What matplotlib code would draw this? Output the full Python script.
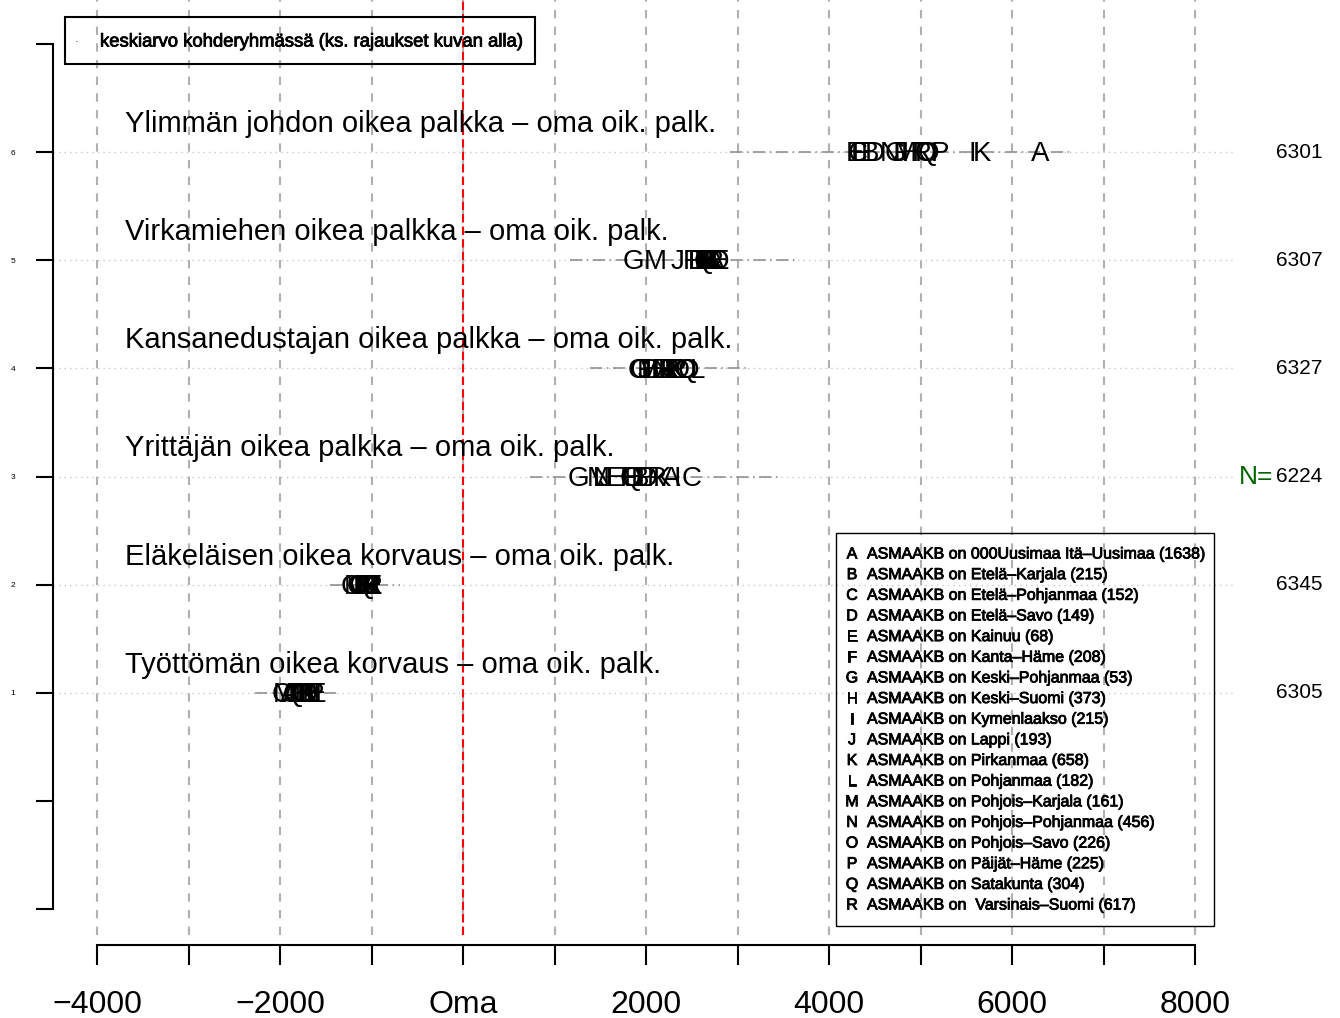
import matplotlib
matplotlib.use("Agg")
import matplotlib.pyplot as plt
import matplotlib.patheffects as pe
from matplotlib.patches import Rectangle

plt.rcParams['font.family'] = ['Liberation Sans', 'DejaVu Sans']

# rows, bottom to top
rows = [1, 2, 3, 4, 5, 6]
row_labels = [
    "Työttömän oikea korvaus – oma oik. palk.",
    "Eläkeläisen oikea korvaus – oma oik. palk.",
    "Yrittäjän oikea palkka – oma oik. palk.",
    "Kansanedustajan oikea palkka – oma oik. palk.",
    "Virkamiehen oikea palkka – oma oik. palk.",
    "Ylimmän johdon oikea palkka – oma oik. palk.",
]
n_values = [6305, 6345, 6224, 6327, 6307, 6301]

letters = list("ABCDEFGHIJKLMNOPQR")
regions = ["000Uusimaa Itä–Uusimaa", "Etelä–Karjala", "Etelä–Pohjanmaa", "Etelä–Savo",
           "Kainuu", "Kanta–Häme", "Keski–Pohjanmaa", "Keski–Suomi", "Kymenlaakso",
           "Lappi", "Pirkanmaa", "Pohjanmaa", "Pohjois–Karjala", "Pohjois–Pohjanmaa",
           "Pohjois–Savo", "Päijät–Häme", "Satakunta", " Varsinais–Suomi"]
region_n = [1638, 215, 152, 149, 68, 208, 53, 373, 215, 193, 658, 182, 161, 456, 226, 225, 304, 617]

# group means (A..R) per row
means_1 = [-1900, -1750, -1980, -1700, -1600, -1820, -1850, -1650, -1780,
           -1880, -1720, -1800, -1950, -1680, -1760, -1620, -1840, -1700]
means_2 = [-1000, -1100, -1230, -1050, -980, -1080, -1150, -1020, -1060,
           -1120, -1000, -1090, -1180, -1040, -1130, -1010, -1070, -990]
means_3 = [2273, 1934, 2503, 2022, 1661, 1803, 1257, 1869, 2339,
           1552, 2175, 1497, 1475, 1530, 1825, 1989, 1847, 2120]
means_4 = [2208, 2044, 1934, 2372, 2153, 2284, 1913, 2098, 2240,
           1989, 2317, 2557, 2022, 2175, 2426, 2339, 2459, 2262]
means_5 = [2754, 2645, 2699, 2568, 2809, 2612, 1858, 2678, 2590,
           2339, 2721, 2536, 2098, 2656, 2787, 2503, 2634, 2743]
means_6 = [6306, 4448, 4317, 4503, 4284, 4339, 4721, 4907, 5563,
           4776, 5672, 4317, 4831, 4667, 5049, 5213, 5082, 5016]
all_means = [means_1, means_2, means_3, means_4, means_5, means_6]

range_lo = [-2270, -1450, 730, 1390, 1170, 2920]
range_hi = [-1340, -690, 3460, 3140, 3630, 6630]

x_ticks = list(range(-4000, 9000, 1000))
x_ticklabels = ["−4000", "", "−2000", "", "Oma", "", "2000", "", "4000", "", "6000", "", "8000"]
y_ticks = list(range(-1, 8))
y_ticklabels = ["", "", "1", "2", "3", "4", "5", "6", ""]

W, H = 1340, 1018
fig = plt.figure(figsize=(W / 100, H / 100), dpi=100)
ax = fig.add_axes([53 / W, 83 / H, 1182 / W, 935 / H])
ax.set_xlim(-4481, 8437)
ax.set_ylim(-1.237, 7.405)

# grid
for xv in x_ticks:
    ax.axvline(xv, color="#b0b0b0", ls=(0, (4, 4)), lw=1.5, zorder=1)
for r in rows:
    ax.axhline(r, color="#c8c8c8", ls=(0, (1, 3)), lw=1, zorder=1)
ax.axvline(0, color="red", ls=(0, (4, 2)), lw=1.5, zorder=2)

# ranges and letters
for r, lo, hi, means, lab, n in zip(rows, range_lo, range_hi, all_means, row_labels, n_values):
    ax.plot([lo, hi], [r, r], color="#888888", ls=(0, (8, 3, 1, 3)), lw=1.1, zorder=2)
    for letter, m in zip(letters, means):
        ax.text(m, r - 0.02, letter, fontsize=20, ha="center", va="center", zorder=3)
    ax.text(-3694, r + 0.26, lab, fontsize=21, ha="left", va="center")
    ax.text(8885, r, str(n), fontsize=15, ha="left", va="center", clip_on=False)
ax.text(8850, 3, "N=", fontsize=19, color="darkgreen", ha="right", va="center", clip_on=False)

# axes styling
for s in ["top", "right"]:
    ax.spines[s].set_visible(False)
ax.spines["left"].set_bounds(-1, 7)
ax.spines["left"].set_linewidth(1.5)
ax.spines["bottom"].set_bounds(-4000, 8000)
ax.spines["bottom"].set_linewidth(1.5)
ax.spines["bottom"].set_position(("outward", 7.2))
ax.set_xticks(x_ticks)
ax.set_xticklabels(x_ticklabels, fontsize=23)
ax.set_yticks(y_ticks)
ax.set_yticklabels(y_ticklabels, fontsize=6)
ax.tick_params(axis="x", length=14.4, width=1.5, pad=18)
ax.tick_params(axis="y", length=12.2, width=1.5, pad=15)

heavy = [pe.withStroke(linewidth=0.6, foreground="black")]

# top-left legend
fig.add_artist(Rectangle((65 / W, 1 - 64 / H), 470 / W, 47 / H, transform=fig.transFigure,
                         fill=False, ec="black", lw=1.5))
fig.text(77 / W, 1 - 42 / H, "·", color="#000080", fontsize=8, ha="center", va="center")
fig.text(100 / W, 1 - 42 / H, "keskiarvo kohderyhmässä (ks. rajaukset kuvan alla)",
         fontsize=13.3, ha="left", va="center", path_effects=heavy)

# region legend
fig.add_artist(Rectangle((836 / W, 1 - 926 / H), 378 / W, 393 / H, transform=fig.transFigure,
                         fill=False, ec="black", lw=1))
for i, (letter, reg, rn) in enumerate(zip(letters, regions, region_n)):
    yy = 1 - (554 + 20.65 * i) / H
    fig.text(852 / W, yy, letter, fontsize=11.5, ha="center", va="center", path_effects=heavy)
    fig.text(867 / W, yy, f"ASMAAKB on {reg} ({rn})", fontsize=11.5, ha="left", va="center",
             path_effects=heavy)

fig.savefig("out.png", dpi=100)
